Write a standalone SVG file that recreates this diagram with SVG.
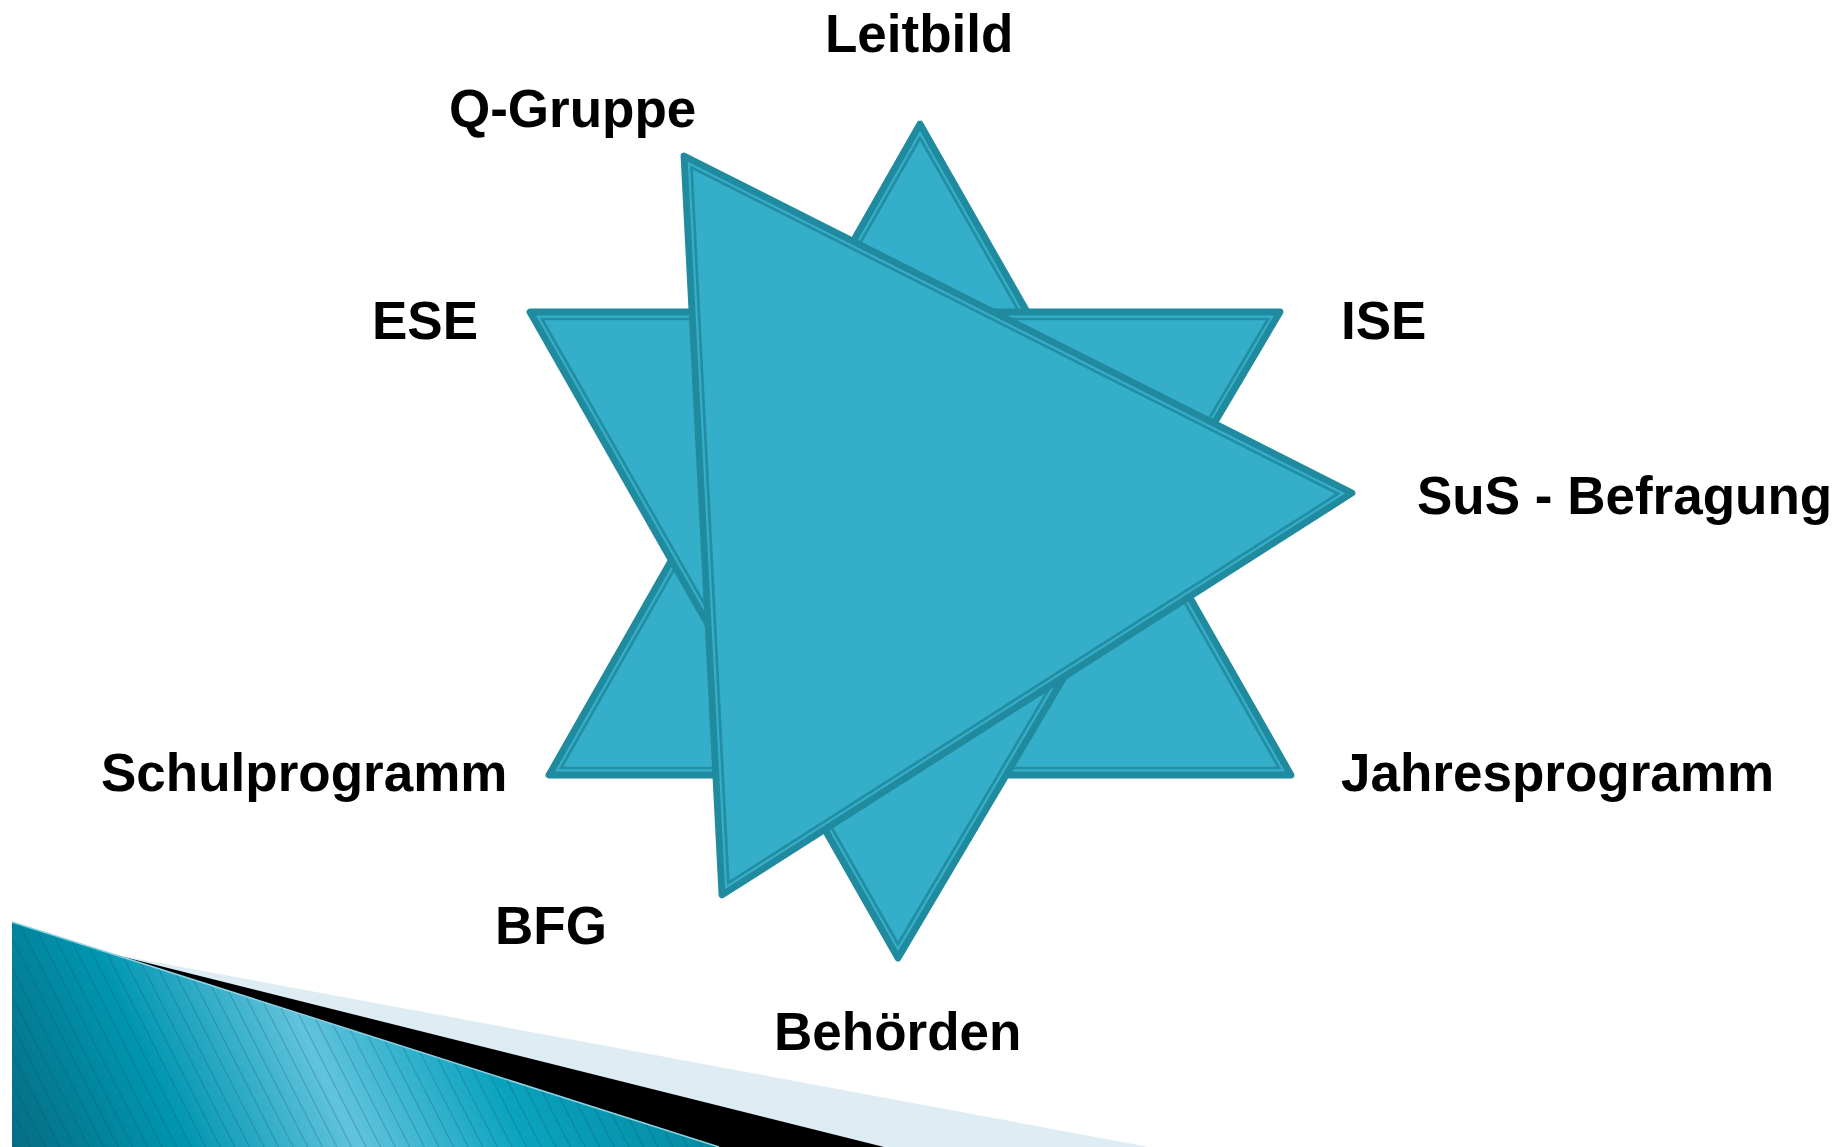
<svg xmlns="http://www.w3.org/2000/svg" width="1847" height="1147" viewBox="0 0 1847 1147">
  <style>
    .tri { fill: #35afc9; stroke: #208a9e; stroke-width: 6.8; stroke-linejoin: round; }
    .inner { fill: none; stroke: #238ea3; stroke-width: 2.7; stroke-linejoin: miter; }
    .lbl { font-family: "Liberation Sans", Arial, sans-serif; font-weight: bold; font-size: 53px; fill: #000; }
  </style>
  <defs>
    <linearGradient id="tealGrad" gradientUnits="userSpaceOnUse" x1="0" y1="1147" x2="700" y2="820">
      <stop offset="0" stop-color="#066a80"/>
      <stop offset="0.22" stop-color="#0096b0"/>
      <stop offset="0.42" stop-color="#62c3dd"/>
      <stop offset="0.62" stop-color="#0aa3be"/>
      <stop offset="1" stop-color="#00798f"/>
    </linearGradient>
    <pattern id="stripes" patternUnits="userSpaceOnUse" width="13" height="13" patternTransform="rotate(-27)">
      <line x1="0.5" y1="0" x2="0.5" y2="13" stroke="#0a4e5e" stroke-opacity="0.3" stroke-width="1"/>
    </pattern>
  </defs>

  <rect width="1847" height="1147" fill="#ffffff"/>

  <g id="corner-decoration">
    <polygon points="112,954 1149,1147 112,1147" fill="#ddedf3"/>
    <polygon points="112,954 884,1147 112,1147" fill="#000000"/>
    <polygon points="12,922 719,1147 12,1147" fill="url(#tealGrad)"/>
    <polygon points="12,922 719,1147 12,1147" fill="url(#stripes)"/>
    <line x1="12" y1="922" x2="719" y2="1147" stroke="#8fd2e3" stroke-width="1.5"/>
  </g>

  <g id="triangle-up">
    <polygon class="tri" points="920,124 549,775 1291,775"/>
    <polygon class="inner" points="920,138 561,768 1279,768"/>
  </g>
  <g id="triangle-down">
    <polygon class="tri" points="530,312 1280,312 898,958"/>
    <polygon class="inner" points="542,319 1268,319 898,944"/>
  </g>
  <g id="triangle-tilted">
    <polygon class="tri" points="684,156 1352,493 722,895"/>
    <polygon class="inner" points="691.5,167.5 1338,493.7 728.3,882.8"/>
  </g>

  <g id="connectors"></g>

  <g id="label-leitbild"><text class="lbl" x="825" y="52">Leitbild</text></g>
  <g id="label-qgruppe"><text class="lbl" x="449" y="127">Q-Gruppe</text></g>
  <g id="label-ese"><text class="lbl" x="372" y="339">ESE</text></g>
  <g id="label-ise"><text class="lbl" x="1341" y="339">ISE</text></g>
  <g id="label-sus"><text class="lbl" x="1417" y="514">SuS - Befragung</text></g>
  <g id="label-schulprogramm"><text class="lbl" x="101" y="791">Schulprogramm</text></g>
  <g id="label-jahresprogramm"><text class="lbl" x="1341" y="791">Jahresprogramm</text></g>
  <g id="label-bfg"><text class="lbl" x="495" y="944">BFG</text></g>
  <g id="label-behoerden"><text class="lbl" x="774" y="1050">Behörden</text></g>
</svg>
